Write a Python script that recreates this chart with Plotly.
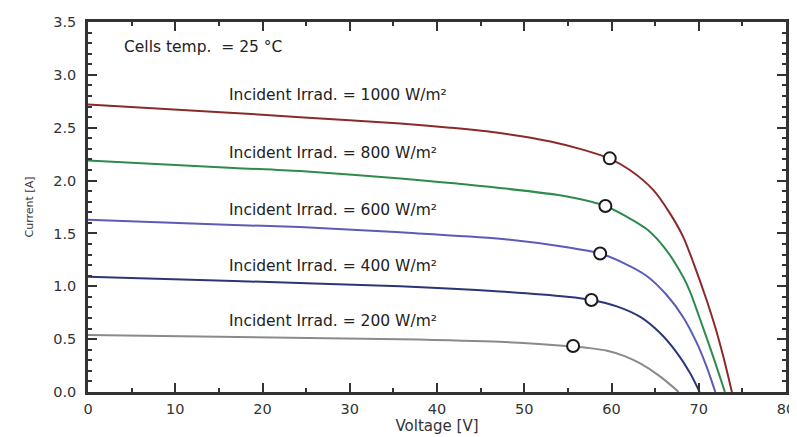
import plotly.graph_objects as go

# Data
v_1000 = [0, 16.7, 24.3, 35.8, 41.5, 47.2, 53.0, 56.8, 59.7, 62.1, 64.8, 66.7, 68.2, 69.4, 70.9, 71.9, 72.8, 73.8]
i_1000 = [2.72, 2.64, 2.60, 2.54, 2.50, 2.45, 2.37, 2.29, 2.21, 2.10, 1.91, 1.69, 1.47, 1.22, 0.87, 0.61, 0.34, 0.0]

v_800 = [0, 16.7, 24.3, 35.8, 47.2, 54.9, 59.3, 61.7, 64.2, 66.3, 68.2, 69.0, 70.1, 71.3, 72.2, 73.0]
i_800 = [2.19, 2.12, 2.09, 2.02, 1.93, 1.85, 1.76, 1.66, 1.53, 1.34, 1.09, 0.95, 0.70, 0.42, 0.20, 0.0]

v_600 = [0, 16.7, 24.3, 35.8, 47.2, 54.9, 58.7, 61.4, 64.0, 66.3, 68.2, 69.8, 70.9, 71.9]
i_600 = [1.63, 1.58, 1.56, 1.51, 1.45, 1.37, 1.31, 1.22, 1.10, 0.92, 0.71, 0.46, 0.24, 0.0]

v_400 = [0, 16.7, 35.8, 47.2, 54.9, 57.7, 60.6, 63.3, 65.6, 67.5, 69.0, 70.1]
i_400 = [1.09, 1.05, 1.00, 0.95, 0.90, 0.87, 0.81, 0.71, 0.555, 0.37, 0.18, 0.0]

v_200 = [0, 35.8, 47.2, 55.6, 57.5, 59.5, 61.5, 63.3, 65.6, 67.7]
i_200 = [0.54, 0.50, 0.475, 0.43, 0.415, 0.39, 0.34, 0.27, 0.145, 0.0]

mpp_v = [59.8, 59.3, 58.7, 57.7, 55.6]
mpp_i = [2.21, 1.76, 1.31, 0.87, 0.435]

labels = ["Incident Irrad. = 1000 W/m²", "Incident Irrad. = 800 W/m²",
          "Incident Irrad. = 600 W/m²", "Incident Irrad. = 400 W/m²",
          "Incident Irrad. = 200 W/m²"]
label_v = [15.9, 15.9, 15.9, 15.9, 15.9]
label_i = [2.81, 2.26, 1.72, 1.19, 0.67]

colors = ["#8b2a2a", "#2e8b4e", "#5c5cb8", "#2b3678", "#8a8a8a"]

series = [(v_1000, i_1000), (v_800, i_800), (v_600, i_600), (v_400, i_400), (v_200, i_200)]

FONT = "DejaVu Sans, Liberation Sans, Arial, sans-serif"

fig = go.Figure()
for (vv, ii), c in zip(series, colors):
    fig.add_trace(go.Scatter(x=vv, y=ii, mode="lines",
                             line=dict(color=c, width=2, shape="spline", smoothing=0.8),
                             showlegend=False, hoverinfo="skip"))

fig.add_trace(go.Scatter(x=mpp_v, y=mpp_i, mode="markers",
                         marker=dict(symbol="circle", size=12, color="white",
                                     line=dict(color="#1a1a1a", width=2)),
                         showlegend=False, hoverinfo="skip"))

txt_font = dict(family=FONT, size=15.5, color="#222222")
for t, x, y in zip(labels, label_v, label_i):
    fig.add_annotation(x=x, y=y, text=t, showarrow=False, xanchor="left",
                       yanchor="middle", font=txt_font)
fig.add_annotation(x=3.9, y=3.26, text="Cells temp.  = 25 °C", showarrow=False,
                   xanchor="left", yanchor="middle", font=txt_font)

axis_common = dict(
    showline=True, linewidth=2.5, linecolor="#333333", mirror="ticks",
    ticks="inside", ticklen=9, tickwidth=1.5, tickcolor="#333333",
    showgrid=False, zeroline=False, automargin=False,
    tickfont=dict(family=FONT, size=14.5, color="#333333"),
)

fig.update_xaxes(range=[0, 80], dtick=10, tick0=0, ticklabelstandoff=2,
                 minor=dict(dtick=5, ticks="inside", ticklen=4, tickcolor="#333333", showgrid=False),
                 title=dict(text="Voltage [V]", standoff=4,
                            font=dict(family=FONT, size=15, color="#333333")),
                 **axis_common)
fig.update_yaxes(range=[0, 3.5], dtick=0.5, tick0=0, tickformat=".1f", ticklabelstandoff=6,
                 minor=dict(dtick=0.1, ticks="inside", ticklen=4, tickcolor="#333333", showgrid=False),
                 title=dict(text="Current [A]", standoff=18,
                            font=dict(family=FONT, size=11, color="#333333")),
                 **axis_common)

# page body has an 8px margin, so the figure is 8px smaller than the window
fig.update_layout(width=789, height=429, plot_bgcolor="white", paper_bgcolor="white",
                  margin=dict(l=80, r=11, t=14, b=45))

fig.write_html("out.html")
